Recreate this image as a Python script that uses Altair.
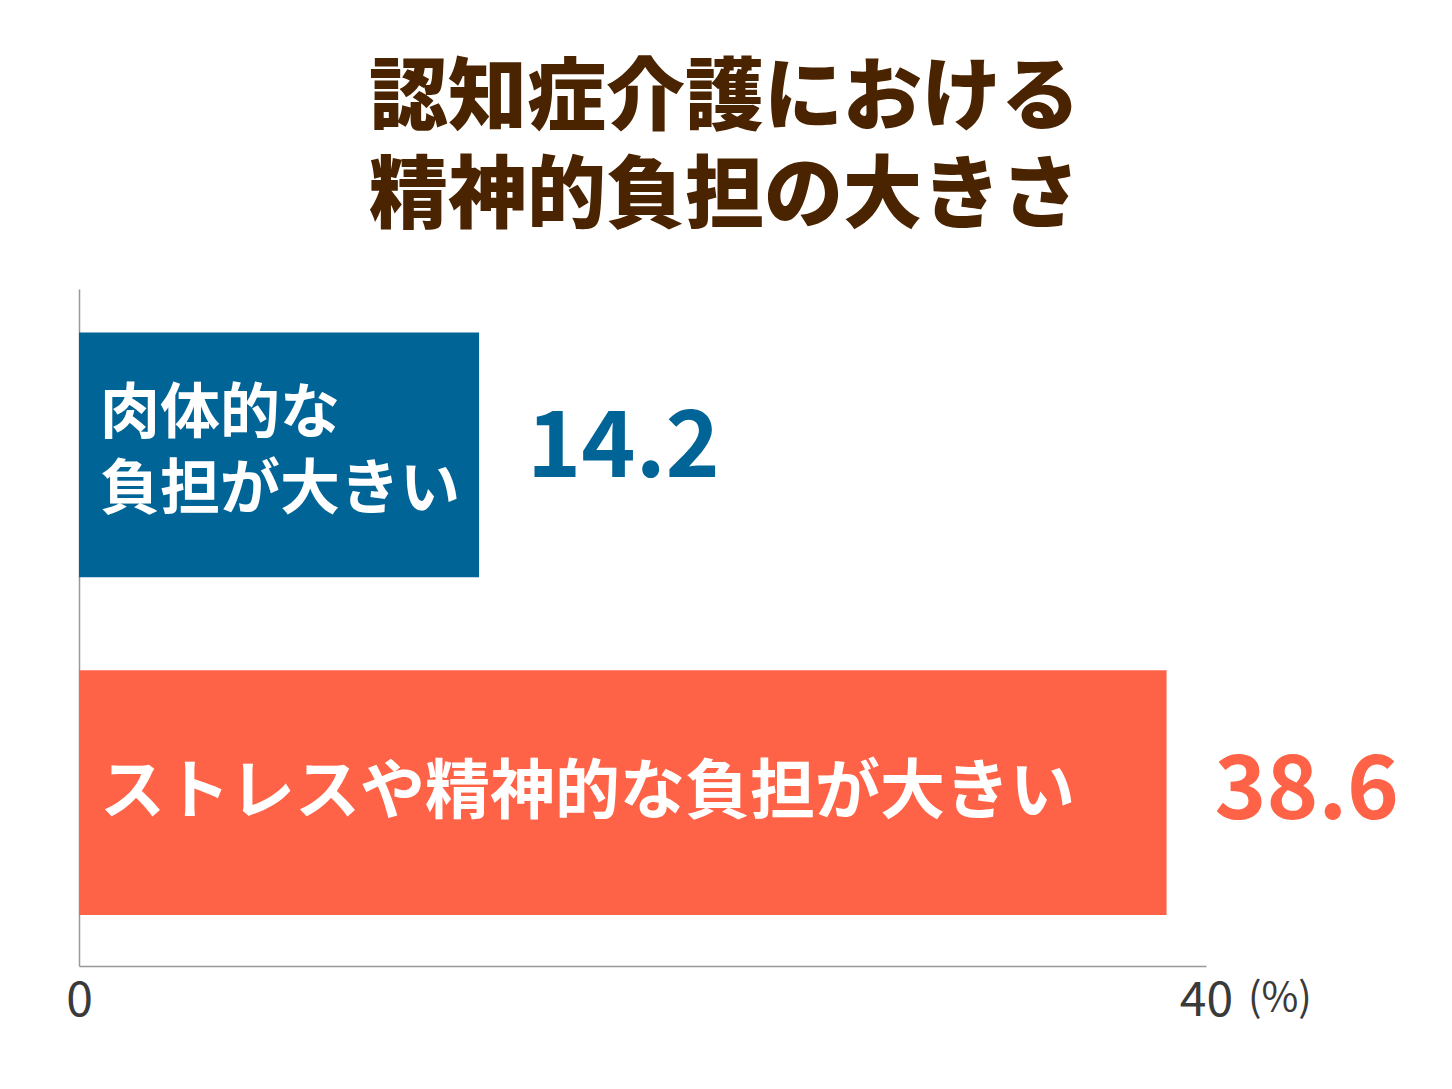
import altair as alt
import pandas as pd

categories = ["肉体的な\n負担が大きい", "ストレスや精神的な負担が大きい"]
values = [14.2, 38.6]
value_labels = ["14.2", "38.6"]
colors = ["#006496", "#FF6347"]
title_lines = ["認知症介護における", "精神的負担の大きさ"]
axis_ticks = [0, 40]
unit_label = "(%)"

df = pd.DataFrame({"cat": categories, "val": values, "lab": value_labels, "color": colors})

FONT = "Noto Sans CJK JP"
W, H = 1127, 677

y_enc = alt.Y("cat:N", sort=categories, axis=alt.Axis(labels=False, ticks=False, title=None,
              domainColor="#999999", domainWidth=1.5),
              scale=alt.Scale(paddingInner=0.275, paddingOuter=0.14, align=0.46))
x_scale = alt.Scale(domain=[0, 40], nice=False, zero=True)

bars = alt.Chart(df).mark_bar(cornerRadius=0).encode(
    x=alt.X("val:Q", scale=x_scale,
            axis=alt.Axis(values=axis_ticks, title=None, grid=False, ticks=False,
                          labelFontSize=48, labelColor="#3a3a3a", labelFont=FONT,
                          labelPadding=11, domainColor="#999999", domainWidth=1.5,
                          labelFlush=False)),
    y=y_enc,
    color=alt.Color("color:N", scale=None),
)

inner1 = alt.Chart(df).transform_filter(alt.datum.val < 20).mark_text(
    align="left", baseline="middle", dx=21, dy=-40, font=FONT,
    fontWeight=700, fontSize=60, color="white",
    lineBreak="\n", lineHeight=76).encode(
    x=alt.datum(0),
    y=alt.Y("cat:N", sort=categories),
    text="cat:N",
)

inner2 = alt.Chart(df).transform_filter(alt.datum.val >= 20).mark_text(
    align="left", baseline="middle", dx=21, dy=0, font=FONT,
    fontWeight=700, fontSize=65, color="white").encode(
    x=alt.datum(0),
    y=alt.Y("cat:N", sort=categories),
    text="cat:N",
)

vals1 = alt.Chart(df).transform_filter(alt.datum.val < 20).mark_text(
    align="left", baseline="middle", dx=48, dy=-6, font=FONT,
    fontWeight=700, fontSize=92).encode(
    x="val:Q",
    y=alt.Y("cat:N", sort=categories),
    text="lab:N",
    color=alt.Color("color:N", scale=None),
)

vals2 = alt.Chart(df).transform_filter(alt.datum.val >= 20).mark_text(
    align="left", baseline="middle", dx=48, dy=0, font=FONT,
    fontWeight=700, fontSize=88).encode(
    x="val:Q",
    y=alt.Y("cat:N", sort=categories),
    text="lab:N",
    color=alt.Color("color:N", scale=None),
)

unit = alt.Chart(pd.DataFrame({"u": [unit_label]})).mark_text(
    align="left", baseline="middle", dx=42, dy=33, font=FONT, fontSize=40, color="#3a3a3a"
).encode(x=alt.datum(40), y=alt.value(H), text="u:N")

chart = alt.layer(bars, inner1, inner2, vals1, vals2, unit).properties(
    width=W, height=H,
    background="white",
    title=alt.TitleParams(text=title_lines, fontSize=79, font=FONT, fontWeight=900,
                          color="#4A2300", anchor="middle", dx=82, offset=50,
                          lineHeight=98),
    padding={"left": 71, "top": 281, "right": 238, "bottom": 115},
    autosize=alt.AutoSizeParams(type="none"),
).configure_view(strokeWidth=0, stroke=None)

chart.save("out.html", embed_options={"renderer": "svg", "actions": False})
